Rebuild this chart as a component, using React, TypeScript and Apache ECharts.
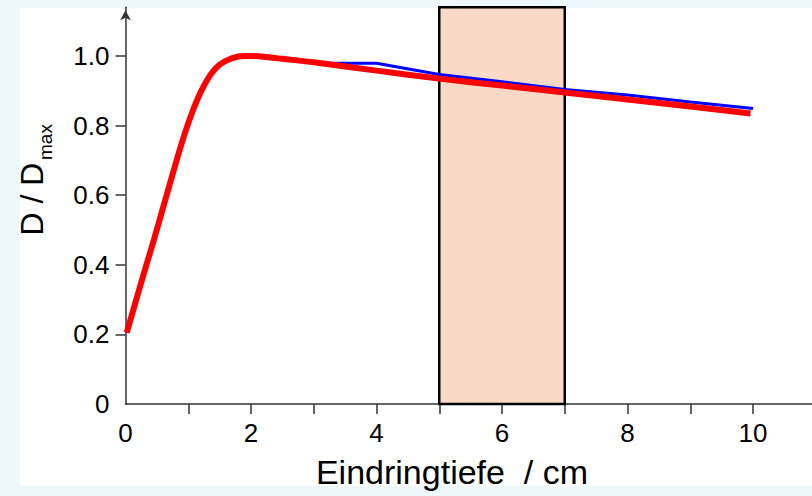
import React, { useEffect, useRef } from "react";
import * as echarts from "echarts";

// Depth (cm) and relative dose values
const depthRed = [0.02, 0.3, 0.45, 0.6, 0.75, 0.9, 1.05, 1.2, 1.35, 1.5, 1.7, 1.9, 2.0, 2.2, 2.5, 3.0, 4.0, 5.0, 6.0, 7.0, 8.0, 9.0, 9.96];
const doseRed = [0.205, 0.38, 0.47, 0.565, 0.66, 0.752, 0.832, 0.897, 0.945, 0.975, 0.994, 1.0, 1.0, 0.998, 0.992, 0.982, 0.958, 0.935, 0.915, 0.895, 0.875, 0.855, 0.835];

const depthBlue = [0.02, 0.3, 0.45, 0.6, 0.75, 0.9, 1.05, 1.2, 1.35, 1.5, 1.7, 1.9, 2.0, 2.2, 2.5, 3.0, 3.27, 4.0, 5.0, 6.0, 7.0, 8.0, 9.0, 10.0];
const doseBlue = [0.205, 0.382, 0.472, 0.567, 0.663, 0.755, 0.835, 0.9, 0.947, 0.976, 0.994, 1.0, 1.0, 0.998, 0.992, 0.983, 0.979, 0.979, 0.947, 0.926, 0.904, 0.888, 0.868, 0.849];

const xTickValues = [1, 2, 3, 4, 5, 6, 7, 8, 9, 10];
const xLabelValues = [0, 2, 4, 6, 8, 10];
const yTickValues = [0.2, 0.4, 0.6, 0.8, 1.0];
const yLabelValues = [0, 0.2, 0.4, 0.6, 0.8, 1.0];

const regionStart = 5;
const regionEnd = 7;

const xTitle = "Eindringtiefe  / cm";
const yTitleMain = "D / D";
const yTitleSub = "max";

const FONT = "'Liberation Sans', Arial, sans-serif";

export default function App() {
  const ref = useRef<HTMLDivElement>(null);

  useEffect(() => {
    document.body.style.margin = "0";
    if (!ref.current) return;
    const chart = echarts.init(ref.current, undefined, { renderer: "svg" });
    const axisColor = "#333";
    const option: any = {
      animation: false,
      backgroundColor: "transparent",
      grid: {
        left: 125.5,
        right: -3.75,
        top: 7.3,
        bottom: 92,
        containLabel: false,
        outerBoundsMode: "none",
      },
      xAxis: {
        type: "value",
        min: 0,
        max: 11,
        axisLine: { show: true, onZero: false, lineStyle: { color: axisColor, width: 1.5 } },
        axisTick: { show: true, customValues: xTickValues, length: 10, lineStyle: { color: axisColor, width: 1.5 } },
        axisLabel: {
          show: true,
          customValues: xLabelValues,
          margin: 16,
          fontSize: 26,
          fontFamily: FONT,
          color: "#000",
        },
        splitLine: { show: false },
      },
      yAxis: {
        type: "value",
        min: 0,
        max: 1.14,
        axisLine: {
          show: true,
          onZero: false,
          symbol: ["none", "arrow"],
          symbolSize: [8, 10],
          symbolOffset: [0, -3],
          lineStyle: { color: axisColor, width: 1.5 },
        },
        axisTick: { show: true, customValues: yTickValues, length: 10, lineStyle: { color: axisColor, width: 1.5 } },
        axisLabel: {
          show: true,
          customValues: yLabelValues,
          margin: 16,
          fontSize: 26,
          fontFamily: FONT,
          color: "#000",
          formatter: (v: number) => (v === 0 ? "0" : v.toFixed(1)),
        },
        splitLine: { show: false },
      },
      series: [
        {
          type: "line",
          data: depthBlue.map((d, i) => [d, doseBlue[i]]),
          symbol: "none",
          showSymbol: false,
          lineStyle: { color: "#0000ff", width: 3 },
          z: 3,
          markArea: {
            silent: true,
            itemStyle: { color: "#fbd9c7", borderColor: "#000", borderWidth: 2.5 },
            data: [[{ xAxis: regionStart, yAxis: 0 }, { xAxis: regionEnd, yAxis: 1.14 }]],
          },
        },
        {
          type: "line",
          data: depthRed.map((d, i) => [d, doseRed[i]]),
          symbol: "none",
          showSymbol: false,
          smooth: 0.3,
          lineStyle: { color: "#ff0000", width: 6 },
          z: 4,
        },
      ],
      graphic: [
        {
          type: "text",
          x: 452,
          y: 472,
          style: {
            text: xTitle,
            fontSize: 34,
            fontFamily: FONT,
            fill: "#000",
            align: "center",
            verticalAlign: "middle",
          },
        },
        {
          type: "text",
          x: 32,
          y: 199,
          rotation: Math.PI / 2,
          style: {
            text: yTitleMain,
            fontSize: 32,
            fontFamily: FONT,
            fill: "#000",
            align: "center",
            verticalAlign: "middle",
          },
        },
        {
          type: "text",
          x: 45,
          y: 142,
          rotation: Math.PI / 2,
          style: {
            text: yTitleSub,
            fontSize: 19,
            fontFamily: FONT,
            fill: "#000",
            align: "center",
            verticalAlign: "middle",
          },
        },
      ],
    };
    chart.setOption(option);
    return () => chart.dispose();
  }, []);

  return (
    <div style={{ position: "absolute", left: 0, top: 0, width: 812, height: 496, background: "#edf8fc", overflow: "hidden" }}>
      <div style={{ position: "absolute", left: 20, top: 8, width: 792, height: 478, background: "#ffffff" }} />
      <div ref={ref} style={{ position: "absolute", left: 0, top: 0, width: 812, height: 496 }} />
    </div>
  );
}
